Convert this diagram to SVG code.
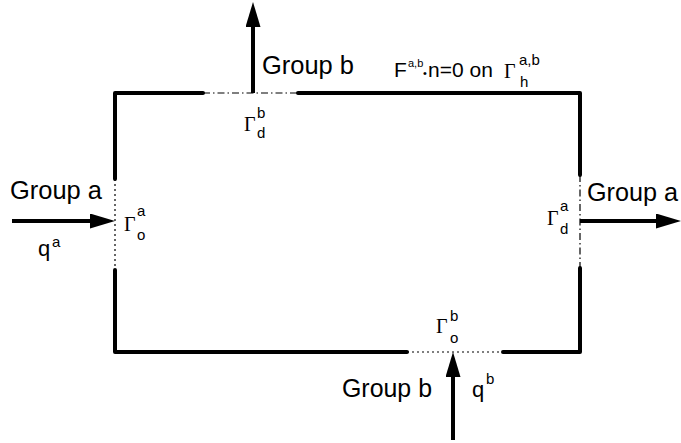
<svg xmlns="http://www.w3.org/2000/svg" width="681" height="443" viewBox="0 0 681 443">
<style>
.wall{fill:none;stroke:#000;stroke-width:4;stroke-linecap:round;stroke-linejoin:round}
.dot{fill:none;stroke:#000;stroke-width:1.2;stroke-dasharray:2 3}
.dash{fill:none;stroke:#000;stroke-width:1.2;stroke-dasharray:7 3 1.5 3}
.arr{fill:none;stroke:#000;stroke-width:4;marker-end:url(#head)}
.lbl{font-family:"Liberation Sans",Arial,sans-serif;font-size:25px;fill:#000}
.sym{font-family:"Liberation Serif","Times New Roman",serif;font-size:20px;fill:#000}
.sub{font-family:"Liberation Sans",Arial,sans-serif;font-size:15px;fill:#000}
.q{font-family:"Liberation Sans",Arial,sans-serif;font-size:22px;fill:#000}
.eq{font-family:"Liberation Sans",Arial,sans-serif;font-size:21px;fill:#000}
.sm{font-family:"Liberation Sans",Arial,sans-serif;font-size:11px;fill:#000}
</style>
<defs>
<marker id="head" viewBox="0 0 25 15" refX="5" refY="7.5" markerWidth="25" markerHeight="15" markerUnits="userSpaceOnUse" orient="auto">
<path d="M0,0 L25,7.5 L0,15 z" fill="#000"/>
</marker>
</defs>
<g id="domain">
<path class="wall" d="M203,93 L115,93 L115,179"/>
<path class="wall" d="M298,93 L580,93 L580,175"/>
<path class="wall" d="M115,270 L115,352 L407,352"/>
<path class="wall" d="M503,352 L580,352 L580,268"/>
<line class="dash" x1="203" y1="93" x2="298" y2="93"/>
<line class="dot" x1="115" y1="179" x2="115" y2="270"/>
<line class="dash" x1="580" y1="175" x2="580" y2="268"/>
<line class="dot" x1="407" y1="352" x2="503" y2="352"/>
</g>
<g id="connectors">
<line class="arr" x1="12" y1="221" x2="95" y2="221"/>
<line class="arr" x1="580" y1="221" x2="661" y2="221"/>
<line class="arr" x1="253" y1="93" x2="253" y2="22"/>
<line class="arr" x1="453" y1="440" x2="453" y2="372"/>
</g>
<g id="label-left">
<text class="lbl" x="10" y="199" textLength="92" lengthAdjust="spacingAndGlyphs">Group a</text>
<text class="q" x="38" y="256">q</text>
<text class="sub" x="52" y="247">a</text>
<text class="sym" x="124" y="231">Γ</text>
<text class="sub" x="137" y="216">a</text>
<text class="sub" x="137" y="240">o</text>
</g>
<g id="label-right">
<text class="lbl" x="587" y="201" textLength="91" lengthAdjust="spacingAndGlyphs">Group a</text>
<text class="sym" x="547" y="225">Γ</text>
<text class="sub" x="560" y="211">a</text>
<text class="sub" x="560" y="234">d</text>
</g>
<g id="label-top">
<text class="lbl" x="262" y="74" textLength="92" lengthAdjust="spacingAndGlyphs">Group b</text>
<text class="sym" x="244" y="131">Γ</text>
<text class="sub" x="257" y="118">b</text>
<text class="sub" x="257" y="138">d</text>
<text class="eq" x="394" y="77">F</text>
<text class="sm" x="408" y="67">a,b</text>
<text class="sm" x="423" y="77">•</text>
<text class="eq" x="428" y="77">n=0 on</text>
<text class="sym" x="504" y="78">Γ</text>
<text class="sub" x="519" y="65">a,b</text>
<text class="sub" x="520" y="87">h</text>
</g>
<g id="label-bottom">
<text class="lbl" x="342" y="397" textLength="90" lengthAdjust="spacingAndGlyphs">Group b</text>
<text class="q" x="472" y="397">q</text>
<text class="sub" x="486" y="384">b</text>
<text class="sym" x="436" y="333">Γ</text>
<text class="sub" x="450" y="321">b</text>
<text class="sub" x="450" y="343">o</text>
</g>
</svg>
